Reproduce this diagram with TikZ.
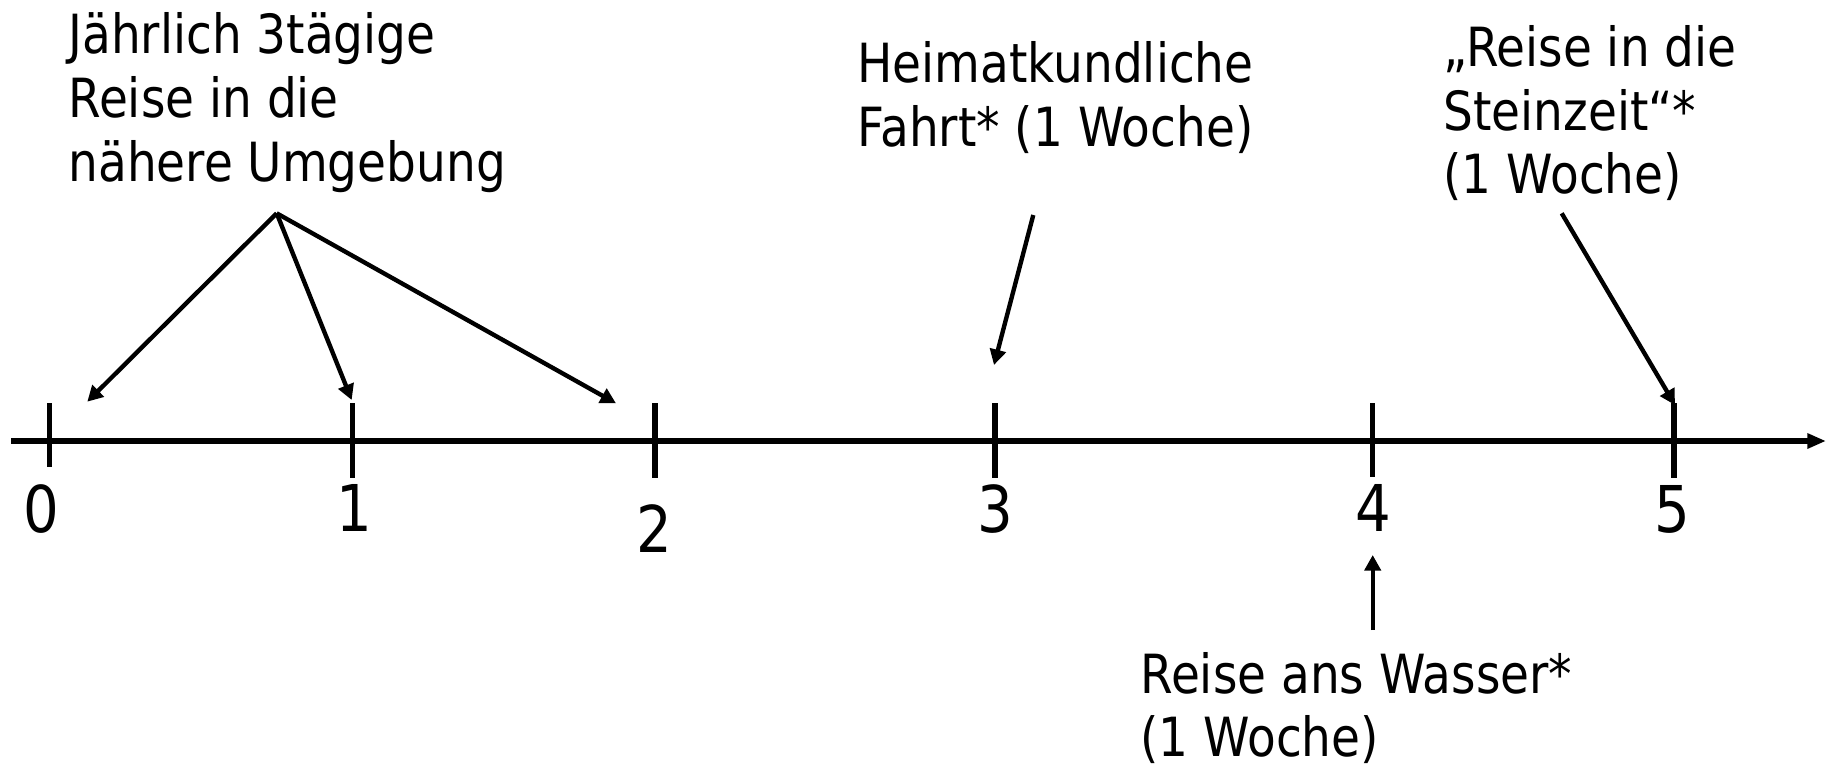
\documentclass[tikz,border=0pt]{standalone}
\usepackage{fontspec}
\setmainfont{DejaVu Sans}[FakeStretch=0.87]
\usetikzlibrary{arrows.meta}
\begin{document}
\begin{tikzpicture}[x=0.4pt,y=-0.4pt,
  lbl/.style={anchor=base west,inner sep=0pt,font=\fontsize{21.6pt}{25.6pt}\selectfont},
  num/.style={anchor=base,inner sep=0pt,font=\fontsize{25.8pt}{30pt}\selectfont},
  axisline/.style={line width=2.1pt,-{Triangle[length=7.5pt,width=5.8pt]}},
  tickmark/.style={line width=2.1pt},
  pointer/.style={line width=1.75pt,-{Triangle[length=6.2pt,width=6.4pt]}}]
\useasboundingbox (0,0) rectangle (1827,767);
% axis
\coordinate (axL) at (11,441);
\coordinate (axR) at (1826,441);
\draw[axisline] (axL) -- (axR);
% ticks
\foreach \n/\x/\b in {0/49.5/466.7,1/352.5/478,2/655/478,3/995/478,4/1372.7/477,5/1674/478}{
  \coordinate (tt\n) at (\x,403);
  \coordinate (tb\n) at (\x,\b);
  \draw[tickmark] (tt\n) -- (tb\n);
}
% numbers
\node[num] (n0) at (41,532.7) {0};
\node[num] (n1) at (354,531) {1};
\node[num] (n2) at (654,552.7) {2};
\node[num] (n3) at (995,532) {3};
\node[num] (n4) at (1373,531) {4};
\node[num] (n5) at (1672,532) {5};
% labels
\node[lbl] (t1) at (68,53) {\vtop{\baselineskip=25.6pt\hbox{Jährlich 3tägige}\hbox{Reise in die}\hbox{nähere Umgebung}}};
\node[lbl] (t2) at (857,82.7) {\vtop{\baselineskip=25.6pt\hbox{Heimatkundliche}\hbox{Fahrt* (1 Woche)}}};
\node[lbl] (t3) at (1443,66.7) {\vtop{\baselineskip=25.4pt\hbox{„Reise in die}\hbox{Steinzeit“*}\hbox{(1 Woche)}}};
\node[lbl] (t4) at (1140,693.3) {\vtop{\baselineskip=25.2pt\hbox{Reise ans Wasser*}\hbox{(1 Woche)}}};
% pointers
\coordinate (s1) at (276.7,213.3);
\coordinate (e1a) at (87.3,401.7);
\coordinate (e1b) at (351.7,400);
\coordinate (e1c) at (616,403.3);
\draw[pointer] (s1) -- (e1a);
\draw[pointer] (s1) -- (e1b);
\draw[pointer] (s1) -- (e1c);
\coordinate (s2) at (1033.3,215);
\coordinate (e2) at (994,365);
\draw[pointer] (s2) -- (e2);
\coordinate (s3) at (1561.7,213.3);
\coordinate (e3) at (1675,405);
\draw[pointer] (s3) -- (e3);
\coordinate (s4) at (1372.7,630);
\coordinate (e4) at (1372.7,555);
\draw[pointer] (s4) -- (e4);
\end{tikzpicture}
\end{document}
